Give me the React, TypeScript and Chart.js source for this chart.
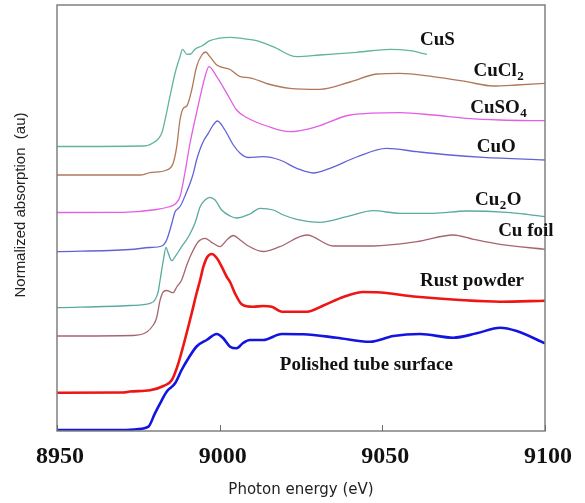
import { useEffect, useRef } from "react";
import { Chart, registerables } from "chart.js";

Chart.register(...registerables);

const xTicks = [8950, 9000, 9050, 9100];

const cusEnergy = [8950, 8976.4, 8979.5, 8982.2, 8983.2, 8984.7, 8986.3, 8987.8, 8988.6, 8989.9, 8991.1, 8992.4, 8994.5, 8997.0, 8999.6, 9003.2, 9007.2, 9011.4, 9016.4, 9023.7, 9030.8, 9042.1, 9052.4, 9058.5, 9063.7];
const cusAbs = [284.5, 285, 288, 298, 311, 334.3, 358, 374.3, 381.7, 376.7, 377, 381.7, 385, 390.3, 392.7, 393.7, 392.3, 390.3, 384.3, 374.3, 376, 378.7, 381.7, 380.3, 376.7];

const cucl2Energy = [8950, 8975.5, 8978.6, 8983.7, 8985.7, 8986.8, 8987.8, 8988.8, 8989.9, 8991.4, 8992.9, 8994.5, 8995.7, 8997.0, 8999.1, 9003.2, 9006.3, 9009.3, 9014.9, 9021.6, 9030.8, 9040.1, 9048.3, 9055.4, 9065.6, 9075.9, 9084.0, 9091.3, 9100];
const cucl2Abs = [256, 256, 258.3, 261, 267.7, 284.3, 311, 322.7, 325, 341, 364.3, 376, 379, 374.3, 366, 361.5, 354.3, 353.2, 347, 342.7, 341.7, 349, 357, 357.7, 354.3, 349.3, 345, 346, 347.7];

const cuso4Energy = [8950, 8970.3, 8980.6, 8984.2, 8986.3, 8987.8, 8989.3, 8990.9, 8992.4, 8994.0, 8995.5, 8996.7, 8999.1, 9002.2, 9005.2, 9008.7, 9014.5, 9021.6, 9029.8, 9040.1, 9055.4, 9065.6, 9075.9, 9086.2, 9100];
const cuso4Abs = [218.5, 218.7, 221.5, 224, 227, 234.3, 258, 288, 311, 334.3, 354.3, 364.3, 354.3, 337.7, 321, 312.7, 305, 299.3, 304.3, 316, 318.3, 316, 312.7, 311, 310.3];

const cuoEnergy = [8950, 8972.4, 8978.6, 8982.2, 8983.7, 8985.3, 8986.3, 8987.3, 8988.1, 8989.7, 8990.9, 8991.9, 8992.9, 8994.0, 8995.2, 8996.5, 8997.6, 8999.3, 9001.6, 9004.2, 9006.3, 9008.7, 9013.4, 9018.5, 9023.7, 9028.8, 9033.9, 9042.1, 9051.3, 9060.6, 9070.8, 9081.0, 9100];
const cuoAbs = [179.3, 181.5, 183.5, 185, 191, 207.7, 219.3, 222.7, 226, 238, 247.7, 257.7, 271, 282, 291, 297.7, 304, 310, 301, 286, 277.7, 273.5, 274.3, 271, 262.7, 258, 262.7, 274, 282.7, 279.3, 276, 273.7, 271];

const cu2oEnergy = [8950, 8972.4, 8978.6, 8980.1, 8981.1, 8981.7, 8982.7, 8983.5, 8984.2, 8985.3, 8986.3, 8988.3, 8990.4, 8992.4, 8994.0, 8995.5, 8997.0, 8998.6, 9000.6, 9003.2, 9005.2, 9009.3, 9012.4, 9016.5, 9019.6, 9023.7, 9030.8, 9039.1, 9047.2, 9055.4, 9065.7, 9075.9, 9088.2, 9094.4, 9100];
const cu2oAbs = [123.3, 125.5, 127.7, 131, 139.3, 151, 171, 183.7, 177.7, 170.3, 174.3, 184.3, 194.3, 207.7, 224.3, 231, 233.7, 231, 221, 215, 213, 217, 222.7, 221, 216, 211.7, 208.7, 214.3, 220.3, 217.7, 217.7, 220, 218.7, 216.7, 214.3];

const cuFoilEnergy = [8950, 8973.4, 8977.6, 8979.6, 8980.6, 8981.7, 8982.7, 8983.8, 8984.7, 8985.7, 8986.8, 8988.3, 8989.9, 8991.4, 8993.4, 8995.5, 8998.0, 9000.1, 9002.2, 9004.2, 9006.3, 9008.3, 9013.4, 9018.5, 9026.8, 9034.9, 9047.2, 9060.6, 9071.8, 9078.0, 9086.2, 9100];
const cuFoilAbs = [95, 95.5, 99, 106, 113, 131, 139.3, 140.5, 139.3, 138.3, 144, 151, 166, 177.7, 189.3, 192.7, 187.7, 184.3, 191, 195.5, 191, 186, 179.5, 184.3, 196, 185, 185, 189.3, 196, 191.7, 186.7, 181.7];

const rustEnergy = [8950, 8970.4, 8972.4, 8978.6, 8982.7, 8985.3, 8987.3, 8989.3, 8991.4, 8992.9, 8994.0, 8995.0, 8996.2, 8997.6, 8999.1, 9000.1, 9002.2, 9003.2, 9004.7, 9006.8, 9010.3, 9013.4, 9016.0, 9019.1, 9026.8, 9031.9, 9038.0, 9044.2, 9048.3, 9060.6, 9073.9, 9086.2, 9100];
const rustAbs = [38.3, 38.5, 39.5, 40.7, 45, 51, 67.7, 91, 117.7, 137.7, 151, 164.3, 174, 177, 173, 167.7, 154, 149, 137.7, 126.7, 124.3, 125, 124.3, 119.3, 119.3, 125.5, 134, 139, 138.7, 134.3, 131, 129.3, 130.3];

const polishedEnergy = [8950, 8971.4, 8974.5, 8978.1, 8980.1, 8981.7, 8983.7, 8986.3, 8988.3, 8990.4, 8992.9, 8996.0, 8999.1, 9001.1, 9003.2, 9005.2, 9007.2, 9009.3, 9013.4, 9019.1, 9025.7, 9036.0, 9046.2, 9053.4, 9061.6, 9071.8, 9079.0, 9086.2, 9091.3, 9100];
const polishedAbs = [1, 1, 1.7, 4.3, 17.7, 27.7, 39.3, 47.7, 61, 72.7, 84.5, 91, 97, 92.7, 84.3, 82.7, 88, 91, 91, 97, 96.7, 93.3, 89.3, 95, 97, 93.3, 97.7, 103.3, 100, 87.7];

const seriesNames = ["CuS", "CuCl2", "CuSO4", "CuO", "Cu2O", "Cu foil", "Rust powder", "Polished tube surface"];

const seriesStyle = [
  { color: "#62b4a0", width: 1.3 },
  { color: "#b07858", width: 1.3 },
  { color: "#e35fe3", width: 1.3 },
  { color: "#6262d6", width: 1.3 },
  { color: "#5aaaa0", width: 1.3 },
  { color: "#a8646e", width: 1.3 },
  { color: "#ee1515", width: 2.6 },
  { color: "#1414e0", width: 2.6 },
];

// text annotations: main text, subscript, tail, anchor (energy, level)
const annotations = [
  { main: "CuS", sub: "", tail: "", energy: 9061.6, level: 386 },
  { main: "CuCl", sub: "2", tail: "", energy: 9078.0, level: 355 },
  { main: "CuSO", sub: "4", tail: "", energy: 9077.0, level: 318.3 },
  { main: "CuO", sub: "", tail: "", energy: 9079.0, level: 279.3 },
  { main: "Cu", sub: "2", tail: "O", energy: 9078.5, level: 226 },
  { main: "Cu foil", sub: "", tail: "", energy: 9085.6, level: 195 },
  { main: "Rust powder", sub: "", tail: "", energy: 9061.6, level: 145 },
  { main: "Polished tube surface", sub: "", tail: "", energy: 9018.5, level: 61 },
];

const seriesEnergy = [cusEnergy, cucl2Energy, cuso4Energy, cuoEnergy, cu2oEnergy, cuFoilEnergy, rustEnergy, polishedEnergy];
const seriesAbs = [cusAbs, cucl2Abs, cuso4Abs, cuoAbs, cu2oAbs, cuFoilAbs, rustAbs, polishedAbs];

const mainFont = 'bold 19px "Liberation Serif"';
const subFont = 'bold 13px "Liberation Serif"';

const decorate = {
  id: "decorate",
  afterDraw(chart: any) {
    const { ctx, chartArea: a, scales } = chart;
    const xs = scales.x;
    const ys = scales.y;
    ctx.save();
    ctx.strokeStyle = "#808080";
    ctx.lineWidth = 1.5;
    ctx.strokeRect(a.left, a.top, a.right - a.left, a.bottom - a.top);
    ctx.lineWidth = 1;
    ctx.strokeStyle = "#6a6a6a";
    xTicks.forEach((v) => {
      const px = Math.round(xs.getPixelForValue(v)) + 0.5;
      ctx.beginPath();
      ctx.moveTo(px, a.bottom);
      ctx.lineTo(px, a.bottom - 6);
      ctx.stroke();
    });
    ctx.fillStyle = "#111";
    ctx.textAlign = "left";
    ctx.textBaseline = "alphabetic";
    annotations.forEach((t) => {
      const x = xs.getPixelForValue(t.energy);
      const y = ys.getPixelForValue(t.level);
      ctx.font = mainFont;
      ctx.fillText(t.main, x, y);
      let cx = x + ctx.measureText(t.main).width;
      if (t.sub) {
        ctx.font = subFont;
        ctx.fillText(t.sub, cx + 0.5, y + 4);
        cx += ctx.measureText(t.sub).width + 1;
      }
      if (t.tail) {
        ctx.font = mainFont;
        ctx.fillText(t.tail, cx, y);
      }
    });
    ctx.translate(21, (a.top + a.bottom) / 2 - 13);
    ctx.rotate(-Math.PI / 2);
    ctx.textAlign = "center";
    ctx.textBaseline = "middle";
    ctx.font = '15px "Liberation Sans"';
    ctx.fillStyle = "#222";
    ctx.fillText("Normalized absorption  (au)", 0, 0);
    ctx.restore();
  },
};

export default function App() {
  const ref = useRef<HTMLCanvasElement>(null);
  useEffect(() => {
    const datasets = seriesNames.map((name, i) => ({
      label: name,
      data: seriesEnergy[i].map((e, j) => ({ x: e, y: seriesAbs[i][j] })),
      borderColor: seriesStyle[i].color,
      backgroundColor: seriesStyle[i].color,
      borderWidth: seriesStyle[i].width,
      pointRadius: 0,
      cubicInterpolationMode: "monotone" as const,
      fill: false,
    }));
    const chart = new Chart(ref.current!, {
      type: "line",
      data: { datasets },
      options: {
        animation: false,
        responsive: false,
        layout: { padding: { left: 57, top: 5, right: 40, bottom: 0 } },
        plugins: { legend: { display: false }, tooltip: { enabled: false } },
        scales: {
          x: {
            type: "linear",
            min: 8950,
            max: 9100,
            afterBuildTicks: (scale: any) => {
              scale.ticks = xTicks.map((v) => ({ value: v }));
            },
            afterFit: (scale: any) => {
              scale.height = 72;
            },
            grid: { display: false, drawTicks: false },
            border: { display: false },
            ticks: {
              padding: 11,
              labelOffset: 3,
              maxRotation: 0,
              color: "#111",
              font: { family: '"Liberation Serif"', size: 24, weight: "bold" },
              callback: (v: any) => String(v),
            },
            title: {
              display: true,
              text: "Photon energy (eV)",
              color: "#222",
              font: { family: '"DejaVu Sans"', size: 15 },
              padding: { top: 0, bottom: 4 },
            },
          },
          y: {
            display: false,
            min: 0,
            max: 426,
          },
        },
      },
      plugins: [decorate],
    });
    return () => chart.destroy();
  }, []);
  return (
    <div style={{ position: "absolute", left: 0, top: 0, width: 585, height: 503, background: "#fff" }}>
      <canvas ref={ref} width={585} height={503} style={{ display: "block", width: 585, height: 503 }} />
    </div>
  );
}
